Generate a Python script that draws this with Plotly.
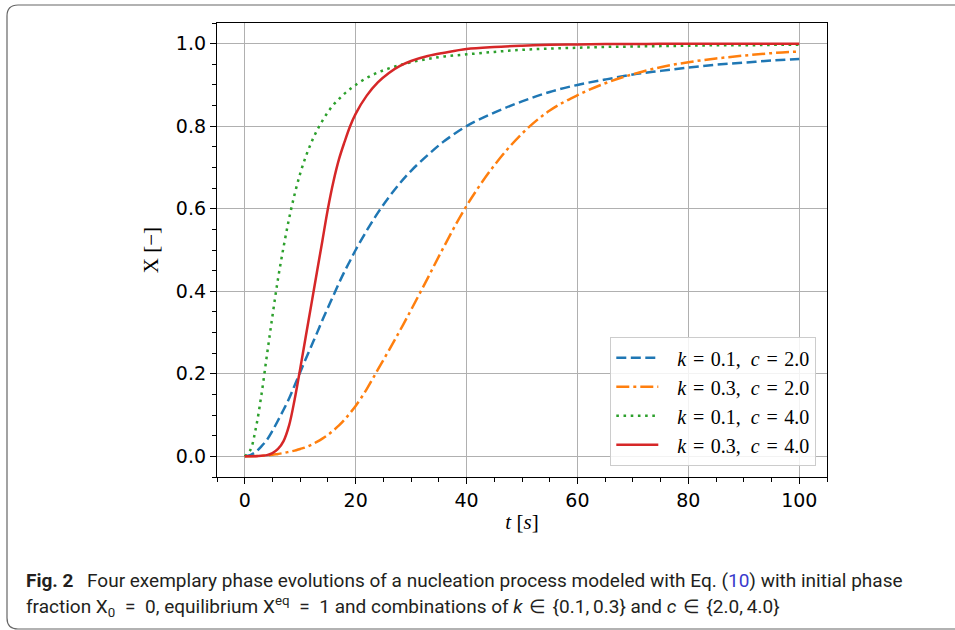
import plotly.graph_objects as go

# ---------------- data ----------------
t = [0, 1, 2, 3, 4, 5, 6, 7, 8, 9, 10, 11, 12, 13, 14, 15, 16, 17, 18, 19, 20,
     22, 24, 26, 28, 30, 33, 36, 40, 45, 50, 55, 60, 65, 70, 75, 80, 85, 90, 95, 100]

x_k01_c2 = [0, 0.003, 0.011, 0.024, 0.04, 0.062, 0.087, 0.113, 0.14, 0.172, 0.204,
            0.236, 0.267, 0.298, 0.33, 0.36, 0.39, 0.42, 0.448, 0.474, 0.5,
            0.547, 0.59, 0.628, 0.662, 0.692, 0.73, 0.764, 0.80, 0.833, 0.86,
            0.883, 0.90, 0.913, 0.925, 0.934, 0.942, 0.949, 0.954, 0.959, 0.963]

x_k03_c2 = [0, 0.0002, 0.0006, 0.0013, 0.0025, 0.004, 0.006, 0.008, 0.011, 0.014, 0.018,
            0.022, 0.028, 0.035, 0.043, 0.052, 0.063, 0.075, 0.089, 0.105, 0.122,
            0.163, 0.21, 0.257, 0.305, 0.355, 0.432, 0.51, 0.607, 0.705, 0.782,
            0.838, 0.875, 0.904, 0.926, 0.943, 0.955, 0.964, 0.971, 0.977, 0.981]

x_k01_c4 = [0, 0.015, 0.068, 0.148, 0.245, 0.34, 0.43, 0.507, 0.576, 0.635, 0.685,
            0.726, 0.76, 0.789, 0.813, 0.834, 0.852, 0.866, 0.879, 0.89, 0.9,
            0.917, 0.93, 0.94, 0.948, 0.955, 0.963, 0.969, 0.974, 0.98, 0.985,
            0.988, 0.99, 0.992, 0.993, 0.994, 0.995, 0.996, 0.996, 0.997, 0.997]

x_k03_c4 = [0, 0.0001, 0.0005, 0.0015, 0.003, 0.008, 0.018, 0.037, 0.075, 0.138, 0.212,
            0.29, 0.367, 0.445, 0.522, 0.6, 0.666, 0.72, 0.762, 0.8, 0.83,
            0.874, 0.906, 0.929, 0.946, 0.958, 0.97, 0.978, 0.987, 0.992, 0.995,
            0.997, 0.998, 0.999, 0.999, 0.9995, 0.9995, 1.0, 1.0, 1.0, 1.0]

k_values = ["0.1", "0.3", "0.1", "0.3"]
c_values = ["2.0", "2.0", "4.0", "4.0"]
series_values = [x_k01_c2, x_k03_c2, x_k01_c4, x_k03_c4]

x_ticks = [0, 20, 40, 60, 80, 100]
y_ticks = [0.0, 0.2, 0.4, 0.6, 0.8, 1.0]

# ---------------- styling ----------------
colors = ["#1f77b4", "#ff7f0e", "#2ca02c", "#d62728"]
dashes = ["10px,4.5px", "13px,4px,3px,4px", "2.6px,4.6px", "solid"]

W, H = 955, 630
ML, MR, MT, MB = 217, 128, 23, 153
PW, PH = W - ML - MR, H - MT - MB


def px(x):
    return (x - ML) / PW


def py(y):
    return (H - MB - y) / PH


def legend_name(k, c):
    sp = "\u2004"
    return (f"\u2002\u2009<i>k</i>{sp}={sp}{k},\u2002<i>c</i>{sp}={sp}{c}")


fig = go.Figure()
for k, c, vals, col, dsh in zip(k_values, c_values, series_values, colors, dashes):
    name = legend_name(k, c)
    fig.add_trace(go.Scatter(
        x=t, y=vals, mode="lines", name=name, legendgroup=name,
        line=dict(color=col, width=2.5, dash=dsh, shape="spline", smoothing=1.0),
    ))

axis_common = dict(
    showline=True, linecolor="black", linewidth=1.3, mirror=True,
    ticks="outside", ticklen=6, tickwidth=1.2, tickcolor="black",
    showgrid=True, gridcolor="#b0b0b0", gridwidth=1.2,
    zeroline=False,
    tickfont=dict(family="DejaVu Sans", size=19, color="black"),
)

fig.update_xaxes(
    range=[-5, 105], tickvals=x_ticks, ticktext=[str(v) for v in x_ticks],
    minor=dict(ticks="outside", ticklen=3.5, tickwidth=1, tickcolor="black",
               dtick=5, tick0=0, showgrid=False),
    title=dict(text="<i>t</i> [<i>s</i>]", standoff=4,
               font=dict(family="Liberation Serif", size=21, color="black")),
    **axis_common)
fig.update_yaxes(
    range=[-0.05, 1.05], tickvals=y_ticks, ticktext=[f"{v:.1f}" for v in y_ticks],
    minor=dict(ticks="outside", ticklen=3.5, tickwidth=1, tickcolor="black",
               dtick=0.05, tick0=0, showgrid=False),
    title=dict(text="X [\u2212]", standoff=11,
               font=dict(family="Liberation Serif", size=21, color="black")),
    **axis_common)

fig.update_layout(
    width=W, height=H,
    margin=dict(l=ML, r=MR, t=MT, b=MB, pad=0),
    paper_bgcolor="white", plot_bgcolor="white",
    showlegend=True,
    legend=dict(
        x=px(816), y=py(466), xanchor="right", yanchor="bottom",
        bgcolor="rgba(255,255,255,0.85)", bordercolor="#cccccc", borderwidth=1.3,
        font=dict(family="Liberation Serif", size=20, color="black"),
        tracegroupgap=0, itemwidth=42,
    ),
)

# outer rounded frame of the figure box
r = 11
x0, x1, y0, y1 = 7, 975, 5, 629
path = (f"M {px(x0)},{py(y0 + r)} Q {px(x0)},{py(y0)} {px(x0 + r)},{py(y0)} "
        f"L {px(x1)},{py(y0)} "
        f"M {px(x0)},{py(y0 + r)} L {px(x0)},{py(y1 - r)} "
        f"Q {px(x0)},{py(y1)} {px(x0 + r)},{py(y1)} L {px(x1)},{py(y1)}")
fig.add_shape(type="path", path=path, xref="paper", yref="paper",
              line=dict(color="#666666", width=1.2), layer="below")

# caption
cap_font = dict(family="Roboto", size=19, color="#231f20")
fig.add_annotation(
    x=px(24), y=py(580), xref="paper", yref="paper", xanchor="left", yanchor="middle",
    showarrow=False, font=cap_font,
    text=("<b>Fig. 2</b>\u2002\u2009Four exemplary phase evolutions of a nucleation process modeled "
          "with Eq. (<span style='color:#3a3acc'>10</span>) with initial phase"),
)
fig.add_annotation(
    x=px(24), y=py(606), xref="paper", yref="paper", xanchor="left", yanchor="middle",
    showarrow=False, font=cap_font,
    text=("fraction X<sub>0</sub>\u2002=\u20020, equilibrium X<sup>eq</sup>\u2002=\u20021 "
          "and combinations of <i>k</i>\u2004\u2208\u2004{0.1,\u20090.3} and "
          "<i>c</i>\u2004\u2208\u2004{2.0,\u20094.0}"),
)

fig.write_html("out.html")
